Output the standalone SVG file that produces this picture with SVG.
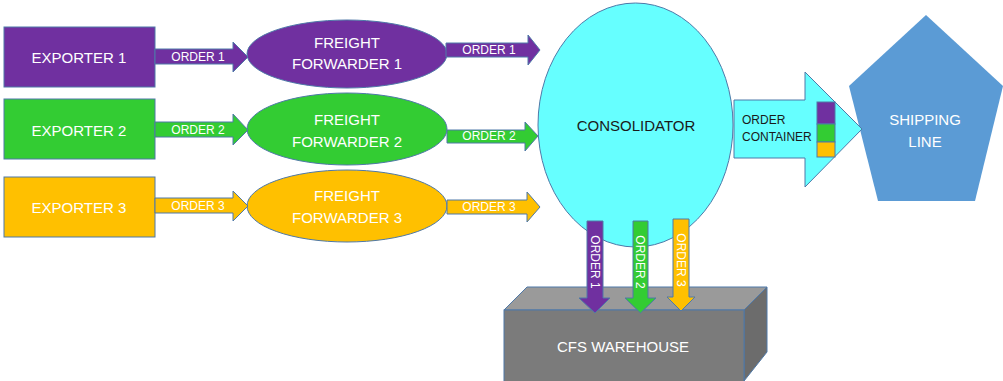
<svg xmlns="http://www.w3.org/2000/svg" width="1003" height="381" viewBox="0 0 1003 381">
  <style>
    .lbl { font-family: "Liberation Sans", Arial, sans-serif; font-size: 15px; fill: #ffffff; text-anchor: middle; }
    .small { font-family: "Liberation Sans", Arial, sans-serif; font-size: 12px; fill: #ffffff; text-anchor: middle; }
    .lbl.dark, .small.dark { fill: #1a1a1a; }
    .left { text-anchor: start; }
    .edge { stroke: #4f79a8; stroke-width: 1; }
    .purple { fill: #7030a0; }
    .green { fill: #33cc33; }
    .yellow { fill: #ffc000; }
    .cyan { fill: #66ffff; }
    .blue { fill: #5b9bd5; }
  </style>

  <!-- exporters -->
  <g id="exporter1">
    <rect class="purple edge" x="4" y="27" width="151" height="60"/>
    <text class="lbl" x="79" y="62.5">EXPORTER 1</text>
  </g>
  <g id="exporter2">
    <rect class="green edge" x="4" y="99" width="151" height="60"/>
    <text class="lbl" x="79" y="135.5">EXPORTER 2</text>
  </g>
  <g id="exporter3">
    <rect class="yellow edge" x="4" y="177" width="151" height="60"/>
    <text class="lbl" x="79" y="212.5">EXPORTER 3</text>
  </g>

  <!-- freight forwarders -->
  <g id="forwarder1">
    <ellipse class="purple edge" cx="347" cy="54" rx="100" ry="34"/>
    <text class="lbl" x="347" y="47.5">FREIGHT</text>
    <text class="lbl" x="347" y="68.5">FORWARDER 1</text>
  </g>
  <g id="forwarder2">
    <ellipse class="green edge" cx="347" cy="129" rx="100" ry="36"/>
    <text class="lbl" x="347" y="124.5">FREIGHT</text>
    <text class="lbl" x="347" y="146.5">FORWARDER 2</text>
  </g>
  <g id="forwarder3">
    <ellipse class="yellow edge" cx="347" cy="206" rx="100" ry="36"/>
    <text class="lbl" x="347" y="200.5">FREIGHT</text>
    <text class="lbl" x="347" y="222.5">FORWARDER 3</text>
  </g>

  <!-- consolidator -->
  <g id="consolidator">
    <ellipse class="cyan edge" cx="635.5" cy="125" rx="97.5" ry="122"/>
    <text class="lbl dark" x="636" y="130.5">CONSOLIDATOR</text>
  </g>

  <!-- shipping line -->
  <g id="shipping-line">
    <polygon class="blue" points="926,15 1003,86 975,201 878,201 849,86"/>
    <text class="lbl" x="925" y="124.5">SHIPPING</text>
    <text class="lbl" x="925" y="146.5">LINE</text>
  </g>

  <!-- CFS warehouse block -->
  <g id="cfs-warehouse">
    <polygon fill="#9a9a9a" class="edge" points="504,310 527,287 767,287 744,310"/>
    <polygon fill="#6c6c6c" class="edge" points="744,310 767,287 767,352 744,381"/>
    <rect fill="#7b7b7b" class="edge" x="504" y="310" width="240" height="80"/>
    <text class="lbl" x="623" y="351.5">CFS WAREHOUSE</text>
  </g>

  <!-- connectors -->
  <g id="connectors">
    <!-- exporter to forwarder -->
    <polygon class="purple edge" points="155,49 233,49 233,42 248,57 233,72 233,64 155,64"/>
    <text class="small" x="198" y="61.3">ORDER 1</text>
    <polygon class="green edge" points="155,122 233,122 233,114 248,130 233,145 233,137 155,137"/>
    <text class="small" x="198" y="134.3">ORDER 2</text>
    <polygon class="yellow edge" points="155,198 233,198 233,191 248,206 233,221 233,213 155,213"/>
    <text class="small" x="198" y="210.3">ORDER 3</text>

    <!-- forwarder to consolidator -->
    <polygon class="purple edge" points="446,43 528,43 528,35 540,50 528,65 528,57 446,57"/>
    <text class="small" x="489" y="54.3">ORDER 1</text>
    <polygon class="green edge" points="447,130 525,130 525,122 538,136 525,151 525,143 447,143"/>
    <text class="small" x="489" y="140.3">ORDER 2</text>
    <polygon class="yellow edge" points="447,200 527,200 527,192 540,207 527,222 527,214 447,214"/>
    <text class="small" x="489" y="211.3">ORDER 3</text>

    <!-- consolidator to warehouse -->
    <polygon class="purple edge" points="587,221 603,221 603,298 610,298 595,313 579,298 587,298"/>
    <text class="small" transform="translate(595,262) rotate(90)" y="4.3">ORDER 1</text>
    <polygon class="green edge" points="633,221 648,221 648,298 656,298 640.5,313 625,298 633,298"/>
    <text class="small" transform="translate(640.5,262) rotate(90)" y="4.3">ORDER 2</text>
    <polygon class="yellow edge" points="673,219 689,219 689,297 695,297 681,311 667,297 673,297"/>
    <text class="small" transform="translate(681,260) rotate(90)" y="4.3">ORDER 3</text>

    <!-- consolidator to shipping line -->
    <polygon class="cyan edge" points="734,100 805,100 805,72 862,129 805,187 805,158 734,158"/>
    <text class="small dark left" x="742" y="124.3">ORDER</text>
    <text class="small dark left" x="742" y="141.3">CONTAINER</text>
    <rect class="purple edge" x="817" y="102" width="18" height="22"/>
    <rect class="green edge" x="817" y="124" width="18" height="18"/>
    <rect class="yellow edge" x="817" y="142" width="18" height="15"/>
  </g>
</svg>
